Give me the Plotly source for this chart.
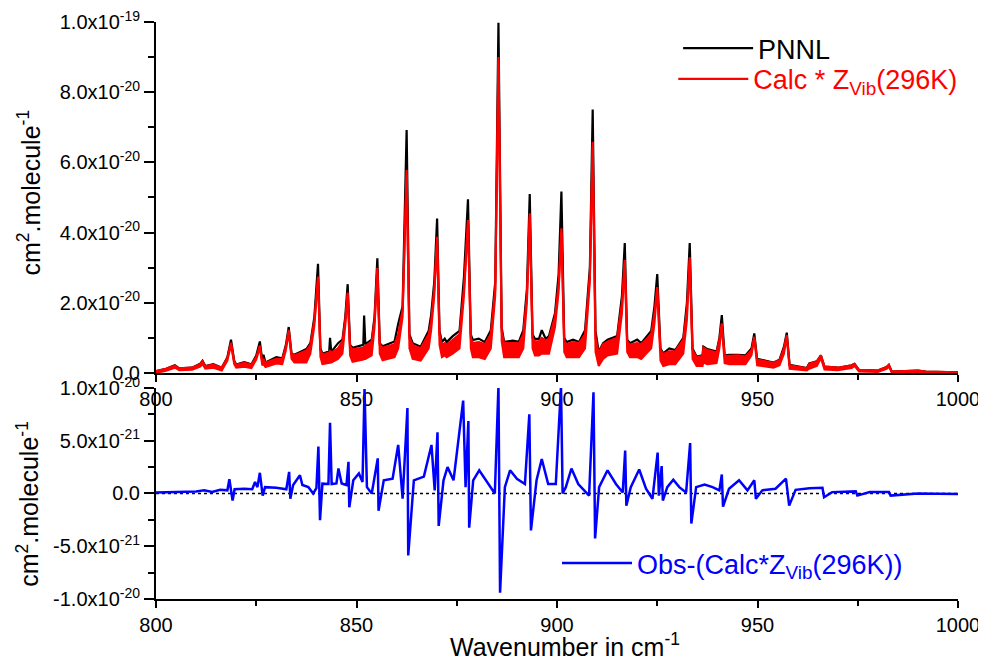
import numpy as np
import plotly.graph_objects as go

# ---------------- data ----------------
# Top panel: wavenumber (cm-1) and cross sections in units of 1e-20 cm2/molecule
wn_top = [800.0, 802.5, 804.7, 805.8, 809.0, 811.0, 811.6, 812.3, 814.3, 816.4,
          817.8, 818.7, 819.5, 820.0, 822.0, 823.8, 825.0, 825.9, 826.5, 826.8,
          827.3, 830.0, 831.5, 832.4, 833.1, 833.8, 834.5, 837.5, 838.5, 839.5,
          840.4, 841.0, 841.5, 843.2, 843.4, 843.7, 845.4, 846.5, 847.2, 847.8,
          848.4, 849.0, 851.7, 851.9, 852.2, 853.8, 854.5, 855.2, 855.8, 856.5,
          859.5, 860.4, 861.5, 862.5, 863.2, 864.0, 866.0, 868.0, 868.6, 869.4,
          870.1, 870.7, 871.3, 872.0, 872.5, 874.0, 875.7, 876.8, 877.8, 878.5,
          879.0, 880.5, 882.0, 883.5, 884.6, 885.4, 886.2, 886.8, 889.0, 890.5,
          891.6, 892.5, 893.2, 893.9, 894.5, 895.5, 896.2, 897.2, 898.0, 899.5,
          900.4, 901.1, 901.8, 902.4, 904.0, 905.5, 907.0, 908.2, 908.9, 909.6,
          910.4, 911.5, 912.6, 915.0, 916.2, 916.9, 917.5, 918.2, 920.0, 921.0,
          923.5, 924.3, 925.0, 925.8, 926.5, 928.0, 929.5, 931.5, 932.4, 933.1,
          933.8, 934.8, 936.3, 936.5, 937.5, 939.8, 940.5, 941.1, 941.8, 943.0,
          945.2, 947.0, 948.5, 949.2, 949.9, 954.0, 955.5, 956.6, 957.3, 958.0,
          962.3, 962.9, 964.8, 965.8, 966.7, 970.0, 973.5, 974.2, 975.3, 980.0,
          982.2, 982.75, 983.5, 990.0, 992.0, 1000.0]

pnnl = [0.05, 0.12, 0.22, 0.13, 0.15, 0.26, 0.35, 0.20, 0.25, 0.15,
        0.45, 0.95, 0.35, 0.24, 0.31, 0.25, 0.50, 0.90, 0.35, 0.52,
        0.30, 0.45, 0.42, 0.80, 1.31, 0.55, 0.52, 0.68, 0.85, 1.60,
        3.11, 0.70, 0.55, 0.62, 1.00, 0.60, 0.85, 0.95, 1.60, 2.53,
        0.80, 0.72, 0.80, 1.64, 0.82, 0.95, 1.60, 3.27, 0.85, 0.76,
        0.90, 1.40, 1.90, 6.92, 1.10, 0.85, 0.75, 1.20, 1.65, 2.60,
        4.40, 1.20, 0.88, 0.98, 0.88, 1.05, 1.20, 2.74, 4.95, 1.10,
        0.94, 0.98, 0.88, 1.22, 2.60, 9.98, 1.30, 0.89, 0.92, 0.89,
        1.22, 2.40, 5.10, 1.10, 0.97, 0.97, 1.22, 0.97, 1.05, 1.70,
        2.80, 5.17, 1.00, 0.88, 0.95, 0.88, 1.22, 3.00, 7.51, 1.20,
        0.60, 0.85, 0.95, 1.05, 2.20, 3.70, 0.95, 0.85, 0.95, 0.85,
        1.20, 1.90, 2.82, 0.70, 0.56, 0.70, 0.65, 1.00, 2.00, 3.70,
        0.70, 0.47, 0.50, 0.75, 0.68, 0.61, 1.00, 1.65, 0.50, 0.52,
        0.52, 0.50, 0.70, 1.13, 0.40, 0.30, 0.38, 0.75, 1.15, 0.23,
        0.14, 0.27, 0.33, 0.50, 0.18, 0.15, 0.22, 0.26, 0.09, 0.07,
        0.17, 0.23, 0.04, 0.07, 0.04, 0.02]

calc_hi = [0.05, 0.12, 0.21, 0.13, 0.15, 0.25, 0.33, 0.19, 0.24, 0.15,
           0.43, 0.86, 0.33, 0.23, 0.29, 0.24, 0.45, 0.78, 0.33, 0.40,
           0.29, 0.40, 0.40, 0.75, 1.23, 0.53, 0.50, 0.64, 0.80, 1.50,
           2.75, 0.65, 0.52, 0.58, 0.62, 0.58, 0.70, 0.90, 1.50, 2.29,
           0.75, 0.68, 0.72, 0.76, 0.76, 0.90, 1.50, 2.99, 0.80, 0.72,
           0.82, 1.10, 1.80, 5.78, 1.00, 0.80, 0.70, 1.10, 1.45, 2.40,
           3.88, 1.10, 0.80, 0.85, 0.80, 0.95, 1.10, 2.40, 4.36, 1.00,
           0.85, 0.88, 0.82, 1.10, 2.40, 9.00, 1.20, 0.85, 0.86, 0.85,
           1.10, 2.20, 4.55, 1.00, 0.90, 0.90, 1.00, 0.92, 0.98, 1.60,
           2.50, 4.12, 0.90, 0.82, 0.88, 0.85, 1.10, 2.80, 6.59, 1.00,
           0.56, 0.82, 0.89, 1.00, 2.00, 3.22, 0.90, 0.80, 0.85, 0.82,
           1.10, 1.70, 2.45, 0.65, 0.54, 0.62, 0.62, 0.95, 1.80, 3.30,
           0.65, 0.45, 0.48, 0.72, 0.65, 0.58, 0.95, 1.41, 0.48, 0.48,
           0.50, 0.47, 0.65, 1.03, 0.38, 0.29, 0.36, 0.70, 1.08, 0.22,
           0.13, 0.26, 0.33, 0.50, 0.18, 0.15, 0.22, 0.26, 0.09, 0.07,
           0.17, 0.23, 0.04, 0.07, 0.04, 0.02]

calc_lo = [0.00, 0.06, 0.15, 0.08, 0.09, 0.18, 0.25, 0.12, 0.15, 0.07,
           0.35, 0.80, 0.25, 0.15, 0.18, 0.14, 0.38, 0.72, 0.22, 0.25,
           0.17, 0.27, 0.25, 0.65, 1.15, 0.40, 0.30, 0.30, 0.55, 1.35,
           2.65, 0.45, 0.25, 0.30, 0.30, 0.30, 0.40, 0.55, 1.35, 2.20,
           0.50, 0.32, 0.38, 0.40, 0.40, 0.50, 1.30, 2.85, 0.55, 0.36,
           0.45, 0.70, 1.60, 5.65, 0.70, 0.40, 0.35, 0.70, 1.20, 2.20,
           3.75, 0.80, 0.45, 0.50, 0.45, 0.55, 0.70, 2.20, 4.25, 0.70,
           0.45, 0.45, 0.40, 0.70, 2.20, 8.90, 0.90, 0.45, 0.45, 0.45,
           0.70, 2.00, 4.45, 0.70, 0.50, 0.50, 0.55, 0.55, 0.55, 1.30,
           2.30, 4.00, 0.60, 0.45, 0.45, 0.45, 0.70, 2.60, 6.45, 0.60,
           0.20, 0.40, 0.50, 0.55, 1.70, 3.10, 0.60, 0.45, 0.45, 0.40,
           0.70, 1.40, 2.35, 0.35, 0.20, 0.25, 0.25, 0.55, 1.50, 3.20,
           0.40, 0.20, 0.20, 0.30, 0.25, 0.28, 0.70, 1.35, 0.28, 0.25,
           0.25, 0.25, 0.50, 0.98, 0.22, 0.15, 0.22, 0.55, 1.02, 0.12,
           0.07, 0.12, 0.20, 0.42, 0.10, 0.08, 0.14, 0.20, 0.04, 0.03,
           0.12, 0.18, 0.01, 0.03, 0.01, 0.00]

# Bottom panel: residual Obs-(Calc*Zvib) in units of 1e-21 cm2/molecule
wn_res = [800.0, 805.0, 810.0, 812.0, 814.0, 816.0, 817.8, 818.3, 818.7, 819.1,
          819.6, 822.0, 824.0, 824.7, 825.3, 825.9, 826.6, 827.2, 830.0, 832.5,
          833.2, 833.5, 834.2, 835.9, 836.5, 838.0, 839.2, 840.0, 840.5, 840.9,
          841.5, 843.0, 843.4, 843.8, 845.0, 845.5, 846.3, 847.5, 848.0, 848.2,
          849.2, 850.6, 851.5, 852.0, 852.6, 853.8, 855.3, 855.5, 856.8, 859.0,
          860.4, 861.5, 862.7, 862.9, 864.3, 866.8, 868.7, 869.5, 870.2, 870.5,
          871.7, 872.7, 874.2, 876.6, 877.2, 877.9, 878.1, 879.1, 880.6, 883.3,
          884.5, 885.4, 885.8, 887.0, 888.3, 890.0, 892.0, 893.1, 893.5, 894.9,
          896.2, 897.8, 899.7, 901.0, 901.4, 902.2, 903.6, 905.3, 908.0, 909.1,
          909.5, 910.5, 912.6, 914.7, 916.4, 917.0, 917.3, 918.4, 920.5, 922.2,
          923.8, 925.1, 925.4, 926.1, 926.4, 927.5, 929.0, 930.5, 932.2, 933.2,
          933.5, 934.7, 936.8, 938.8, 940.5, 941.1, 941.4, 942.9, 945.4, 947.5,
          949.2, 949.6, 951.2, 954.5, 957.1, 957.9, 959.5, 963.0, 966.2, 966.6,
          968.6, 974.5, 974.9, 978.0, 982.8, 983.2, 990.0, 1000.0]

resid = [0.10, 0.15, 0.20, 0.30, 0.15, 0.35, 0.30, 1.35, 0.50, -0.67,
         0.40, 0.45, 0.40, 1.09, 0.60, 1.96, -0.20, 0.60, 0.55, 0.40,
         2.05, -0.50, 0.80, 1.73, 0.80, 0.60, 0.00, 0.50, 4.45, -2.53,
         0.93, 0.90, 6.70, 0.90, 0.95, 2.37, 0.95, 0.80, 3.00, -1.30,
         1.25, 1.90, 1.10, 9.90, 0.60, 0.00, 3.33, -1.63, 1.25, 1.40,
         4.60, -0.50, 8.10, -5.87, 1.25, 1.60, 4.60, 0.30, 5.80, -3.08,
         1.25, 2.50, 1.25, 8.80, 0.60, 6.86, -3.24, 1.25, 2.20, 0.60,
         0.00, 10.2, -9.40, 0.60, 2.20, 1.40, 0.90, 7.50, -3.50, 1.25,
         3.27, 0.90, 0.90, 10.2, 0.00, 0.60, 2.37, 0.90, -0.20, 9.60,
         -4.26, 0.60, 2.20, 0.90, 0.10, 4.07, -1.15, 0.60, 2.27, 0.45,
         -0.50, 3.88, -0.20, 2.60, -0.67, 0.60, 1.30, 0.60, 0.10, 4.78,
         -2.85, 0.60, 0.85, 0.60, 0.30, 1.80, -1.25, 0.45, 1.25, 0.30,
         1.25, -0.50, 0.30, 0.45, 1.40, -1.15, 0.35, 0.50, 0.55, -0.35,
         0.13, 0.20, -0.20, 0.13, 0.13, -0.20, 0.00, -0.05]

x_ticks = [800, 850, 900, 950, 1000]
top_tickvals = [0, 2e-20, 4e-20, 6e-20, 8e-20, 1e-19]
top_ticktext = ["0.0", "2.0x10<sup>-20</sup>", "4.0x10<sup>-20</sup>",
                "6.0x10<sup>-20</sup>", "8.0x10<sup>-20</sup>", "1.0x10<sup>-19</sup>"]
bot_tickvals = [-1e-20, -5e-21, 0, 5e-21, 1e-20]
bot_ticktext = ["-1.0x10<sup>-20</sup>", "-5.0x10<sup>-21</sup>", "0.0",
                "5.0x10<sup>-21</sup>", "1.0x10<sup>-20</sup>"]

assert len(wn_top) == len(pnnl) == len(calc_hi) == len(calc_lo)
assert len(wn_res) == len(resid)

FONT = "Liberation Sans, Arial, sans-serif"
E20, E21 = 1e-20, 1e-21
YTITLE = "cm<sup>2</sup>.molecule<sup>-1</sup>"
LEG_SIZE = 27

fig = go.Figure()
fig.add_trace(go.Scatter(x=wn_top, y=np.array(pnnl) * E20, mode="lines",
                         line=dict(color="black", width=2.2), name="PNNL",
                         legend="legend"))
fig.add_trace(go.Scatter(x=wn_top, y=np.array(calc_hi) * E20, mode="lines",
                         line=dict(color="red", width=2.2),
                         name="Calc * Z<sub>Vib</sub>(296K)",
                         legend="legend3"))
fig.add_trace(go.Scatter(x=wn_top, y=np.array(calc_lo) * E20, mode="lines",
                         line=dict(color="red", width=2), fill="tonexty",
                         fillcolor="red", showlegend=False))
fig.add_trace(go.Scatter(x=wn_res, y=np.array(resid) * E21, mode="lines",
                         xaxis="x2", yaxis="y2",
                         line=dict(color="blue", width=2.5),
                         name="Obs-(Calc*Z<sub>Vib</sub>(296K))",
                         legend="legend2"))

axis_common = dict(showline=True, linecolor="black", linewidth=2, ticks="outside",
                   tickcolor="black", tickwidth=2, showgrid=False, zeroline=False,
                   automargin=False, ticklabeloverflow="allow",
                   tickfont=dict(family=FONT, size=20, color="black"))

leg_common = dict(xanchor="left", yanchor="top", bgcolor="rgba(0,0,0,0)",
                  itemwidth=70, tracegroupgap=0)

# the page body adds an 8px offset, so margins are shifted to compensate
fig.update_layout(
    template="none",
    width=986, height=659,
    margin=dict(l=148, r=36, t=14, b=68, autoexpand=False),
    paper_bgcolor="white", plot_bgcolor="white",
    font=dict(family=FONT, color="black"),
    xaxis=dict(domain=[0, 1], range=[800, 1000], anchor="y", tickvals=x_ticks,
               ticklen=7, minor=dict(tick0=800, dtick=25, ticklen=5, tickwidth=2,
                                     tickcolor="black", ticks="outside"),
               **axis_common),
    yaxis=dict(domain=[0.3917, 1], range=[0, 1e-19], anchor="x", tickvals=top_tickvals,
               ticktext=top_ticktext, ticklen=10,
               minor=dict(tick0=0, dtick=1e-20, ticklen=6, tickwidth=2,
                          tickcolor="black", ticks="outside"),
               **axis_common),
    xaxis2=dict(domain=[0, 1], range=[800, 1000], anchor="y2", tickvals=x_ticks,
                ticklen=7, minor=dict(tick0=800, dtick=25, ticklen=5, tickwidth=2,
                                      tickcolor="black", ticks="outside"),
                **axis_common),
    yaxis2=dict(domain=[0, 0.3657], range=[-1e-20, 1e-20], anchor="x2",
                tickvals=bot_tickvals, ticktext=bot_ticktext, ticklen=10,
                minor=dict(tick0=0, dtick=2.5e-21, ticklen=6, tickwidth=2,
                           tickcolor="black", ticks="outside"),
                **axis_common),
    legend=dict(x=0.651, y=0.9965, font=dict(family=FONT, size=LEG_SIZE, color="black"),
                **leg_common),
    legend3=dict(x=0.645, y=0.943, font=dict(family=FONT, size=LEG_SIZE, color="red"),
                 **leg_common),
    legend2=dict(x=0.5, y=0.104, font=dict(family=FONT, size=LEG_SIZE, color="blue"),
                 **leg_common),
    shapes=[dict(type="line", xref="x2 domain", x0=0, x1=1, yref="y2", y0=0, y1=0,
                 line=dict(color="black", width=1.5, dash="dot"), layer="below")],
    annotations=[
        dict(text=YTITLE, textangle=-90, xref="paper", yref="y domain",
             x=-0.158, y=0.515, xanchor="center", yanchor="middle", showarrow=False,
             font=dict(family=FONT, size=25, color="black")),
        dict(text=YTITLE, textangle=-90, xref="paper", yref="y2 domain",
             x=-0.16, y=0.45, xanchor="center", yanchor="middle", showarrow=False,
             font=dict(family=FONT, size=25, color="black")),
        dict(text="Wavenumber in cm<sup>-1</sup>", xref="paper", yref="paper",
             x=0.51, y=-0.079, xanchor="center", yanchor="middle", showarrow=False,
             font=dict(family=FONT, size=25, color="black")),
    ],
)

fig.write_html("out.html")
